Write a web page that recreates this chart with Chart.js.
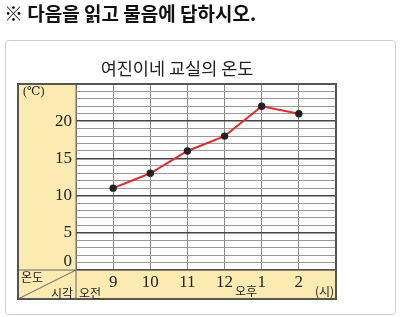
<!DOCTYPE html>
<html>
<head>
<meta charset="utf-8">
<script src="https://cdn.jsdelivr.net/npm/chart.js@4"></script>
<style>
  html, body { margin: 0; padding: 0; background: #fff; }
  #wrap { width: 400px; height: 317px; }
</style>
</head>
<body>
<div id="wrap"><canvas id="tempChart" width="400" height="317"></canvas></div>
<script>
// data
var hours = ['9', '10', '11', '12', '1', '2'];
var temps = [11, 13, 16, 18, 22, 21];
var yLabels = [0, 5, 10, 15, 20];

var heading = '※ 다음을 읽고 물음에 답하시오.';
var chartTitle = '여진이네 교실의 온도';

var yellow = '#fcebb0';
var serif = '"Liberation Serif", "DejaVu Serif", serif';
var kor = '"Noto Sans CJK KR", sans-serif';

// background, frame and extra texts
var tablePlugin = {
    id: 'table',
    beforeDraw: function (chart) {
        var c = chart.ctx;
        var a = chart.chartArea;
        var L = 18, B = 299;
        c.save();
        // heading
        c.fillStyle = '#111';
        c.font = 'bold 19px ' + kor;
        c.textBaseline = 'middle';
        c.textAlign = 'left';
        c.fillText(heading, 4, 14);
        // outer box
        c.strokeStyle = '#cfcfcf';
        c.lineWidth = 1;
        c.beginPath();
        c.roundRect(5.5, 40.5, 390, 274, 3);
        c.stroke();
        // chart title
        c.fillStyle = '#222';
        c.font = '17.5px ' + kor;
        c.textAlign = 'center';
        c.fillText(chartTitle, 177, 68);
        // yellow parts
        c.fillStyle = yellow;
        c.fillRect(L, a.top, a.left - L, B - a.top);
        c.fillRect(a.left, a.bottom, a.right - a.left, B - a.bottom);
        c.fillStyle = '#fff';
        c.fillRect(a.left, a.top, a.right - a.left, a.bottom - a.top);
        c.restore();
    },
    afterDraw: function (chart) {
        var c = chart.ctx;
        var a = chart.chartArea;
        var ys = chart.scales.y;
        var L = 18, B = 299;
        c.save();
        // cell lines
        c.strokeStyle = '#666';
        c.lineWidth = 1;
        c.beginPath();
        c.moveTo(L, a.bottom); c.lineTo(a.right, a.bottom);
        c.moveTo(a.left, a.top); c.lineTo(a.left, B);
        c.moveTo(L, B); c.lineTo(a.left, a.bottom);
        c.stroke();
        // frame
        c.strokeStyle = '#555';
        c.lineWidth = 2;
        c.strokeRect(L, a.top, a.right - L, B - a.top);
        // 0 label sits above its line
        c.fillStyle = '#222';
        c.font = '17px ' + serif;
        c.textAlign = 'right';
        c.textBaseline = 'middle';
        c.fillText(String(yLabels[0]), a.left - 4, ys.getPixelForValue(0) - 8);
        // unit and corner texts
        c.font = '12px ' + serif;
        c.textAlign = 'left';
        c.fillText('(℃)', 23, 92);
        c.font = '12px ' + kor;
        c.fillText('온도', 21, 277);
        c.textAlign = 'right';
        c.fillText('시각', 73, 293);
        c.textAlign = 'left';
        c.fillText('오전', 79, 293);
        c.fillText('오후', 235, 291);
        c.fillText('(시)', 315, 291);
        c.restore();
    }
};

var ctx = document.getElementById('tempChart').getContext('2d');

var tempChart = new Chart(ctx, {
    type: 'line',
    data: {
        datasets: [{
            data: temps.map(function (t, i) { return { x: i + 1, y: t }; }),
            borderColor: '#e52a2a',
            borderWidth: 2,
            pointBackgroundColor: '#222',
            pointBorderColor: '#222',
            pointRadius: 2.7,
            tension: 0
        }]
    },
    options: {
        responsive: false,
        animation: false,
        layout: { padding: { left: 18, right: 64, top: 84, bottom: 18 } },
        plugins: { legend: { display: false }, tooltip: { enabled: false } },
        scales: {
            x: {
                type: 'linear',
                min: 0,
                max: hours.length + 1,
                afterFit: function (s) { s.height = 29; },
                border: { display: false },
                grid: { color: '#888', lineWidth: 1, tickLength: 0 },
                ticks: {
                    stepSize: 1,
                    autoSkip: false,
                    maxRotation: 0,
                    padding: 2,
                    color: '#222',
                    font: { family: serif, size: 17 },
                    callback: function (v) { return hours[v - 1] || ''; }
                }
            },
            y: {
                min: 0,
                max: 25,
                afterFit: function (s) { s.width = 58; },
                border: { display: false },
                grid: {
                    tickLength: 0,
                    color: function (c) { return c.tick.value % 5 === 0 ? '#444' : '#999'; },
                    lineWidth: function (c) { return c.tick.value % 5 === 0 ? 1.5 : 1; }
                },
                ticks: {
                    stepSize: 1,
                    autoSkip: false,
                    padding: 4,
                    color: '#222',
                    font: { family: serif, size: 17 },
                    callback: function (v) {
                        return (v !== 0 && yLabels.indexOf(v) >= 0) ? String(v) : '';
                    }
                }
            }
        }
    },
    plugins: [tablePlugin]
});
</script>
</body>
</html>
